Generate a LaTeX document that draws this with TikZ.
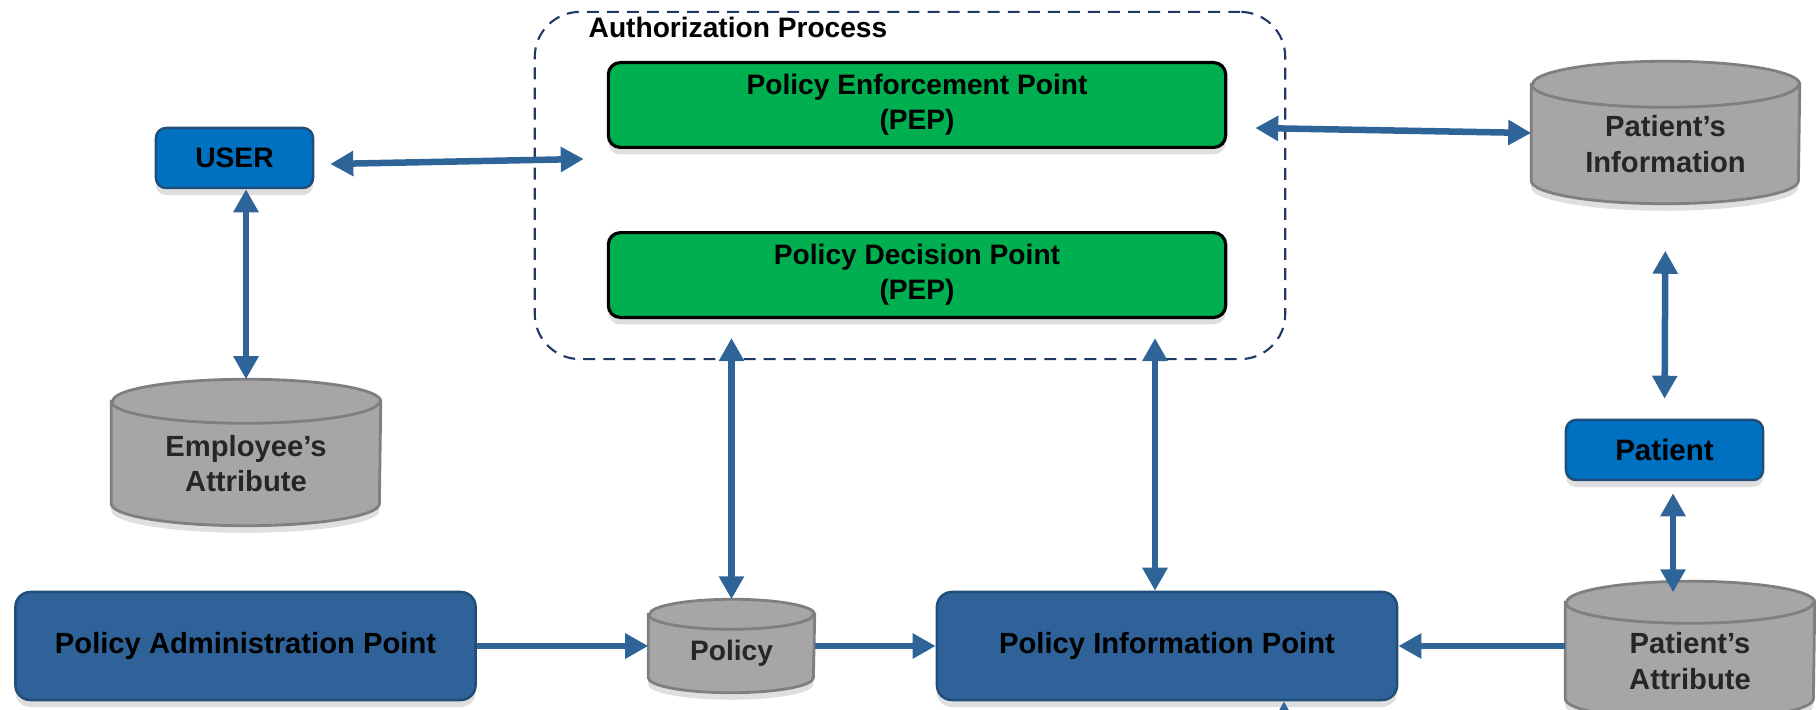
\documentclass[tikz,border=0pt]{standalone}
\usepackage{fontspec}
\setmainfont{Liberation Sans}
\usetikzlibrary{positioning,arrows.meta,calc,shadows,backgrounds}

\definecolor{pointgreen}{HTML}{00B050}
\definecolor{actorblue}{HTML}{0070C0}
\definecolor{adminblue}{HTML}{2E6299}
\definecolor{edgeblue}{HTML}{1F4E79}
\definecolor{arrowblue}{HTML}{2F6499}
\definecolor{storegray}{HTML}{A6A6A6}
\definecolor{storeedge}{HTML}{7F7F7F}
\definecolor{frameblue}{HTML}{203864}

\begin{document}
\begin{tikzpicture}[
    x=0.01cm, y=-0.01cm,
    font=\fontsize{8pt}{10pt}\selectfont\bfseries,
    auth_frame/.style={rectangle, draw=frameblue, line width=0.6pt, dash pattern=on 3.4pt off 2.3pt, rounded corners=0.45cm, minimum width=7.5cm, minimum height=3.47cm},
    frame_title/.style={anchor=base west, inner sep=0pt},
    point_block/.style={rectangle, draw=black, line width=0.9pt, fill=pointgreen, rounded corners=0.12cm, minimum width=6.17cm, minimum height=0.82cm, align=center, drop shadow={shadow xshift=0pt, shadow yshift=-2pt, opacity=0.25}},
    actor_block/.style={rectangle, draw=edgeblue, line width=0.7pt, fill=actorblue, rounded corners=0.1cm, minimum width=1.57cm, minimum height=0.6cm, drop shadow={shadow xshift=0pt, shadow yshift=-2pt, opacity=0.25}},
    admin_block/.style={rectangle, draw=edgeblue, line width=0.7pt, fill=adminblue, rounded corners=0.15cm, minimum width=4.6cm, minimum height=1.08cm, font=\fontsize{8.3pt}{10pt}\selectfont\bfseries, drop shadow={shadow xshift=0pt, shadow yshift=-2pt, opacity=0.25}},
    store/.style={rectangle, inner sep=0pt, align=center, text=black!85, font=\fontsize{8.3pt}{10pt}\selectfont\bfseries},
    store_can/.style={fill=storegray, draw=storeedge, line width=0.8pt, drop shadow={shadow xshift=0pt, shadow yshift=-2pt, opacity=0.25}},
    store_rim/.style={draw=storeedge, line width=0.8pt},
    arrow/.style={-{Triangle[length=0.23cm, width=0.24cm]}, line width=0.065cm, draw=arrowblue},
    both_arrow/.style={{Triangle[length=0.23cm, width=0.24cm]}-{Triangle[length=0.23cm, width=0.24cm]}, line width=0.065cm, draw=arrowblue}
]
\clip (0,0) rectangle (1816,710);

% Authorization process frame
\node[auth_frame] (auth) at (910,185.5) {};
\node[frame_title] (auth_title) at (588,38) {Authorization Process};

% Enforcement and decision points
\node[point_block] (pep) at (917,105) {Policy Enforcement Point\\(PEP)};
\node[point_block, below=0.82cm of pep] (pdp) {Policy Decision Point\\(PEP)};

% Actors
\node[actor_block] (user) at (234.5,158) {USER};
\node[actor_block, minimum width=1.97cm, font=\fontsize{8.4pt}{10pt}\selectfont\bfseries] (patient) at (1664.5,450) {Patient};

% Attribute stores (text part, cans drawn behind)
\node[store, minimum width=2.68cm, minimum height=1.23cm] (employee) at (246,463.5) {Employee’s\\Attribute};
\node[store, minimum width=2.67cm, minimum height=1.18cm] (patinfo) at (1665.5,144) {Patient’s\\Information};
\node[store, minimum width=1.65cm, minimum height=0.77cm, font=\fontsize{8pt}{10pt}\selectfont\bfseries] (policy) at (731.5,653.5) {Policy};
\node[store, minimum width=2.48cm, minimum height=1.16cm] (patattr) at (1690,661) {Patient’s\\Attribute};

\begin{scope}[on background layer]
\foreach \can/\rx/\ry in {employee/1.34/0.22, patinfo/1.335/0.23, policy/0.825/0.15, patattr/1.24/0.21} {
    \filldraw[store_can] (\can.north west) -- ([yshift=\ry cm]\can.south west)
        arc[start angle=180, end angle=360, x radius=\rx cm, y radius=\ry cm]
        -- (\can.north east)
        arc[start angle=0, end angle=180, x radius=\rx cm, y radius=\ry cm] -- cycle;
    \draw[store_rim] (\can.north west) arc[start angle=180, end angle=360, x radius=\rx cm, y radius=\ry cm];
}
\end{scope}

% Administration and information points
\node[admin_block] (pap) at (245.5,646) {Policy Administration Point};
\node[admin_block] (pip) at (1167,646) {Policy Information Point};

% Free ends of the connectors
\coordinate (user_out) at ($(user.east)+(16,6)$);
\coordinate (pep_in) at ($(pep.west)+(-23,54)$);
\coordinate (pep_out) at ($(pep.east)+(28,23)$);
\coordinate (patinfo_in) at ($(patinfo.west)+(0,-11)$);
\coordinate (employee_top) at ([yshift=0.22cm]employee.north);
\coordinate (policy_top) at ([yshift=0.15cm]policy.north);
\coordinate (patattr_top) at ($(patattr.north)+(-17,-10)$);
\coordinate (pip_up) at ($(pip.north)+(-12,0)$);
\coordinate (pip_in) at (1284,770);

% Connectors
\draw[both_arrow] (user_out) -- (pep_in);
\draw[both_arrow] (employee_top |- user.south) -- (employee_top);
\draw[both_arrow] (pep_out) -- (patinfo_in);
\draw[both_arrow, shorten <=0.47cm, shorten >=0.2cm] (patinfo.south) -- (patient.north);
\draw[both_arrow, shorten <=0.12cm] (patattr_top |- patient.south) -- (patattr_top);
\draw[both_arrow, shorten <=0.19cm] (pdp.south -| policy_top) -- (policy_top);
\draw[both_arrow, shorten <=0.19cm] (pdp.south -| pip_up) -- (pip_up);
\draw[arrow] (pap.east) -- (pap.east -| policy.west);
\draw[arrow] (pip.west -| policy.east) -- (pip.west);
\draw[arrow] (patattr.west |- pip.east) -- (pip.east);
\draw[arrow] (pip_in) -- (pip_in |- pip.south);

\end{tikzpicture}
\end{document}
